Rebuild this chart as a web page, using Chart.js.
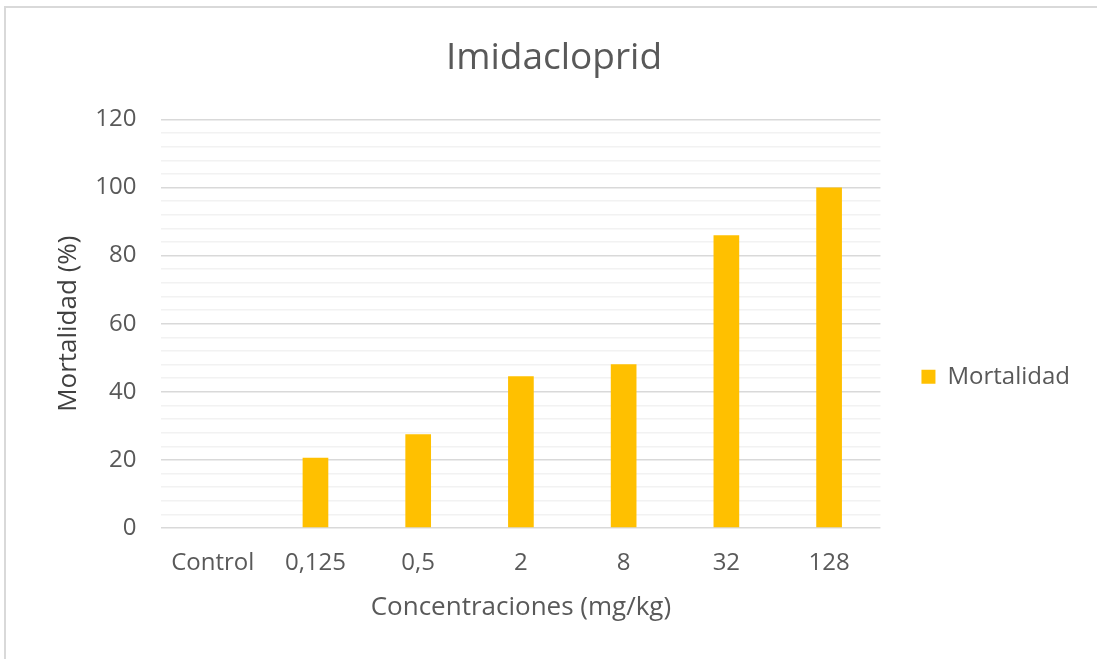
<!DOCTYPE html>
<html>
<head>
<meta charset="utf-8">
<script src="https://cdn.jsdelivr.net/npm/chart.js@4"></script>
<style>
  html, body { margin: 0; padding: 0; background: #fff; }
  #wrap { position: relative; width: 1097px; height: 659px; }
  #frame { position: absolute; left: 4px; top: 6px; right: 0; bottom: 0;
           border-top: 2px solid #d9d9d9; border-left: 2px solid #d9d9d9; pointer-events: none; }
  canvas { position: absolute; left: 0; top: 0; }
</style>
</head>
<body>
<div id="wrap">
  <canvas id="chart" width="1097" height="659"></canvas>
  <div id="frame"></div>
</div>
<script>
// data
var concentraciones = ['Control', '0,125', '0,5', '2', '8', '32', '128'];
var mortalidad = [0, 20.6, 27.5, 44.6, 48.1, 86.0, 100];

var fontFamily = "'Open Sans', 'Noto Sans', sans-serif";
var textColor = '#595959';

var ctx = document.getElementById('chart').getContext('2d');
var myChart = new Chart(ctx, {
    type: 'bar',
    data: {
        labels: concentraciones,
        datasets: [{
            label: 'Mortalidad',
            data: mortalidad,
            backgroundColor: '#ffc000',
            borderWidth: 0,
            barPercentage: 0.5,
            categoryPercentage: 0.5
        }]
    },
    options: {
        responsive: false,
        animation: false,
        layout: { padding: { left: 28, right: 17, top: 0, bottom: 36 } },
        plugins: {
            title: {
                display: true,
                text: 'Imidacloprid',
                color: textColor,
                font: { family: fontFamily, size: 37, weight: 'normal' },
                padding: { top: 36, bottom: 39 }
            },
            legend: {
                position: 'right',
                // empty legend title only pushes the entry down, like the original
                title: { display: true, text: ' ', font: { size: 12 }, padding: { top: 0, bottom: 116 } },
                labels: {
                    color: textColor,
                    font: { family: fontFamily, size: 24 },
                    boxWidth: 14,
                    boxHeight: 14,
                    padding: 41
                }
            },
            tooltip: { enabled: false }
        },
        scales: {
            x: {
                grid: { display: false },
                border: { display: false },
                ticks: { color: textColor, font: { family: fontFamily, size: 24 }, padding: 13, maxRotation: 0 },
                title: {
                    display: true,
                    text: 'Concentraciones (mg/kg)',
                    color: textColor,
                    font: { family: fontFamily, size: 26 },
                    padding: { top: 1, bottom: 0 }
                }
            },
            y: {
                min: 0,
                max: 120,
                border: { display: false },
                grid: {
                    drawTicks: false,
                    color: function (c) { return c.tick && c.tick.value % 20 === 0 ? '#d9d9d9' : '#f2f2f2'; },
                    lineWidth: 1.5
                },
                ticks: {
                    stepSize: 4,
                    autoSkip: false,
                    color: textColor,
                    font: { family: fontFamily, size: 24 },
                    padding: 25,
                    callback: function (v) { return v % 20 === 0 ? v : ''; }
                },
                title: {
                    display: true,
                    text: 'Mortalidad (%)',
                    color: '#404040',
                    font: { family: fontFamily, size: 26 },
                    padding: { top: 25, bottom: -14 }
                }
            }
        }
    }
});
</script>
</body>
</html>
